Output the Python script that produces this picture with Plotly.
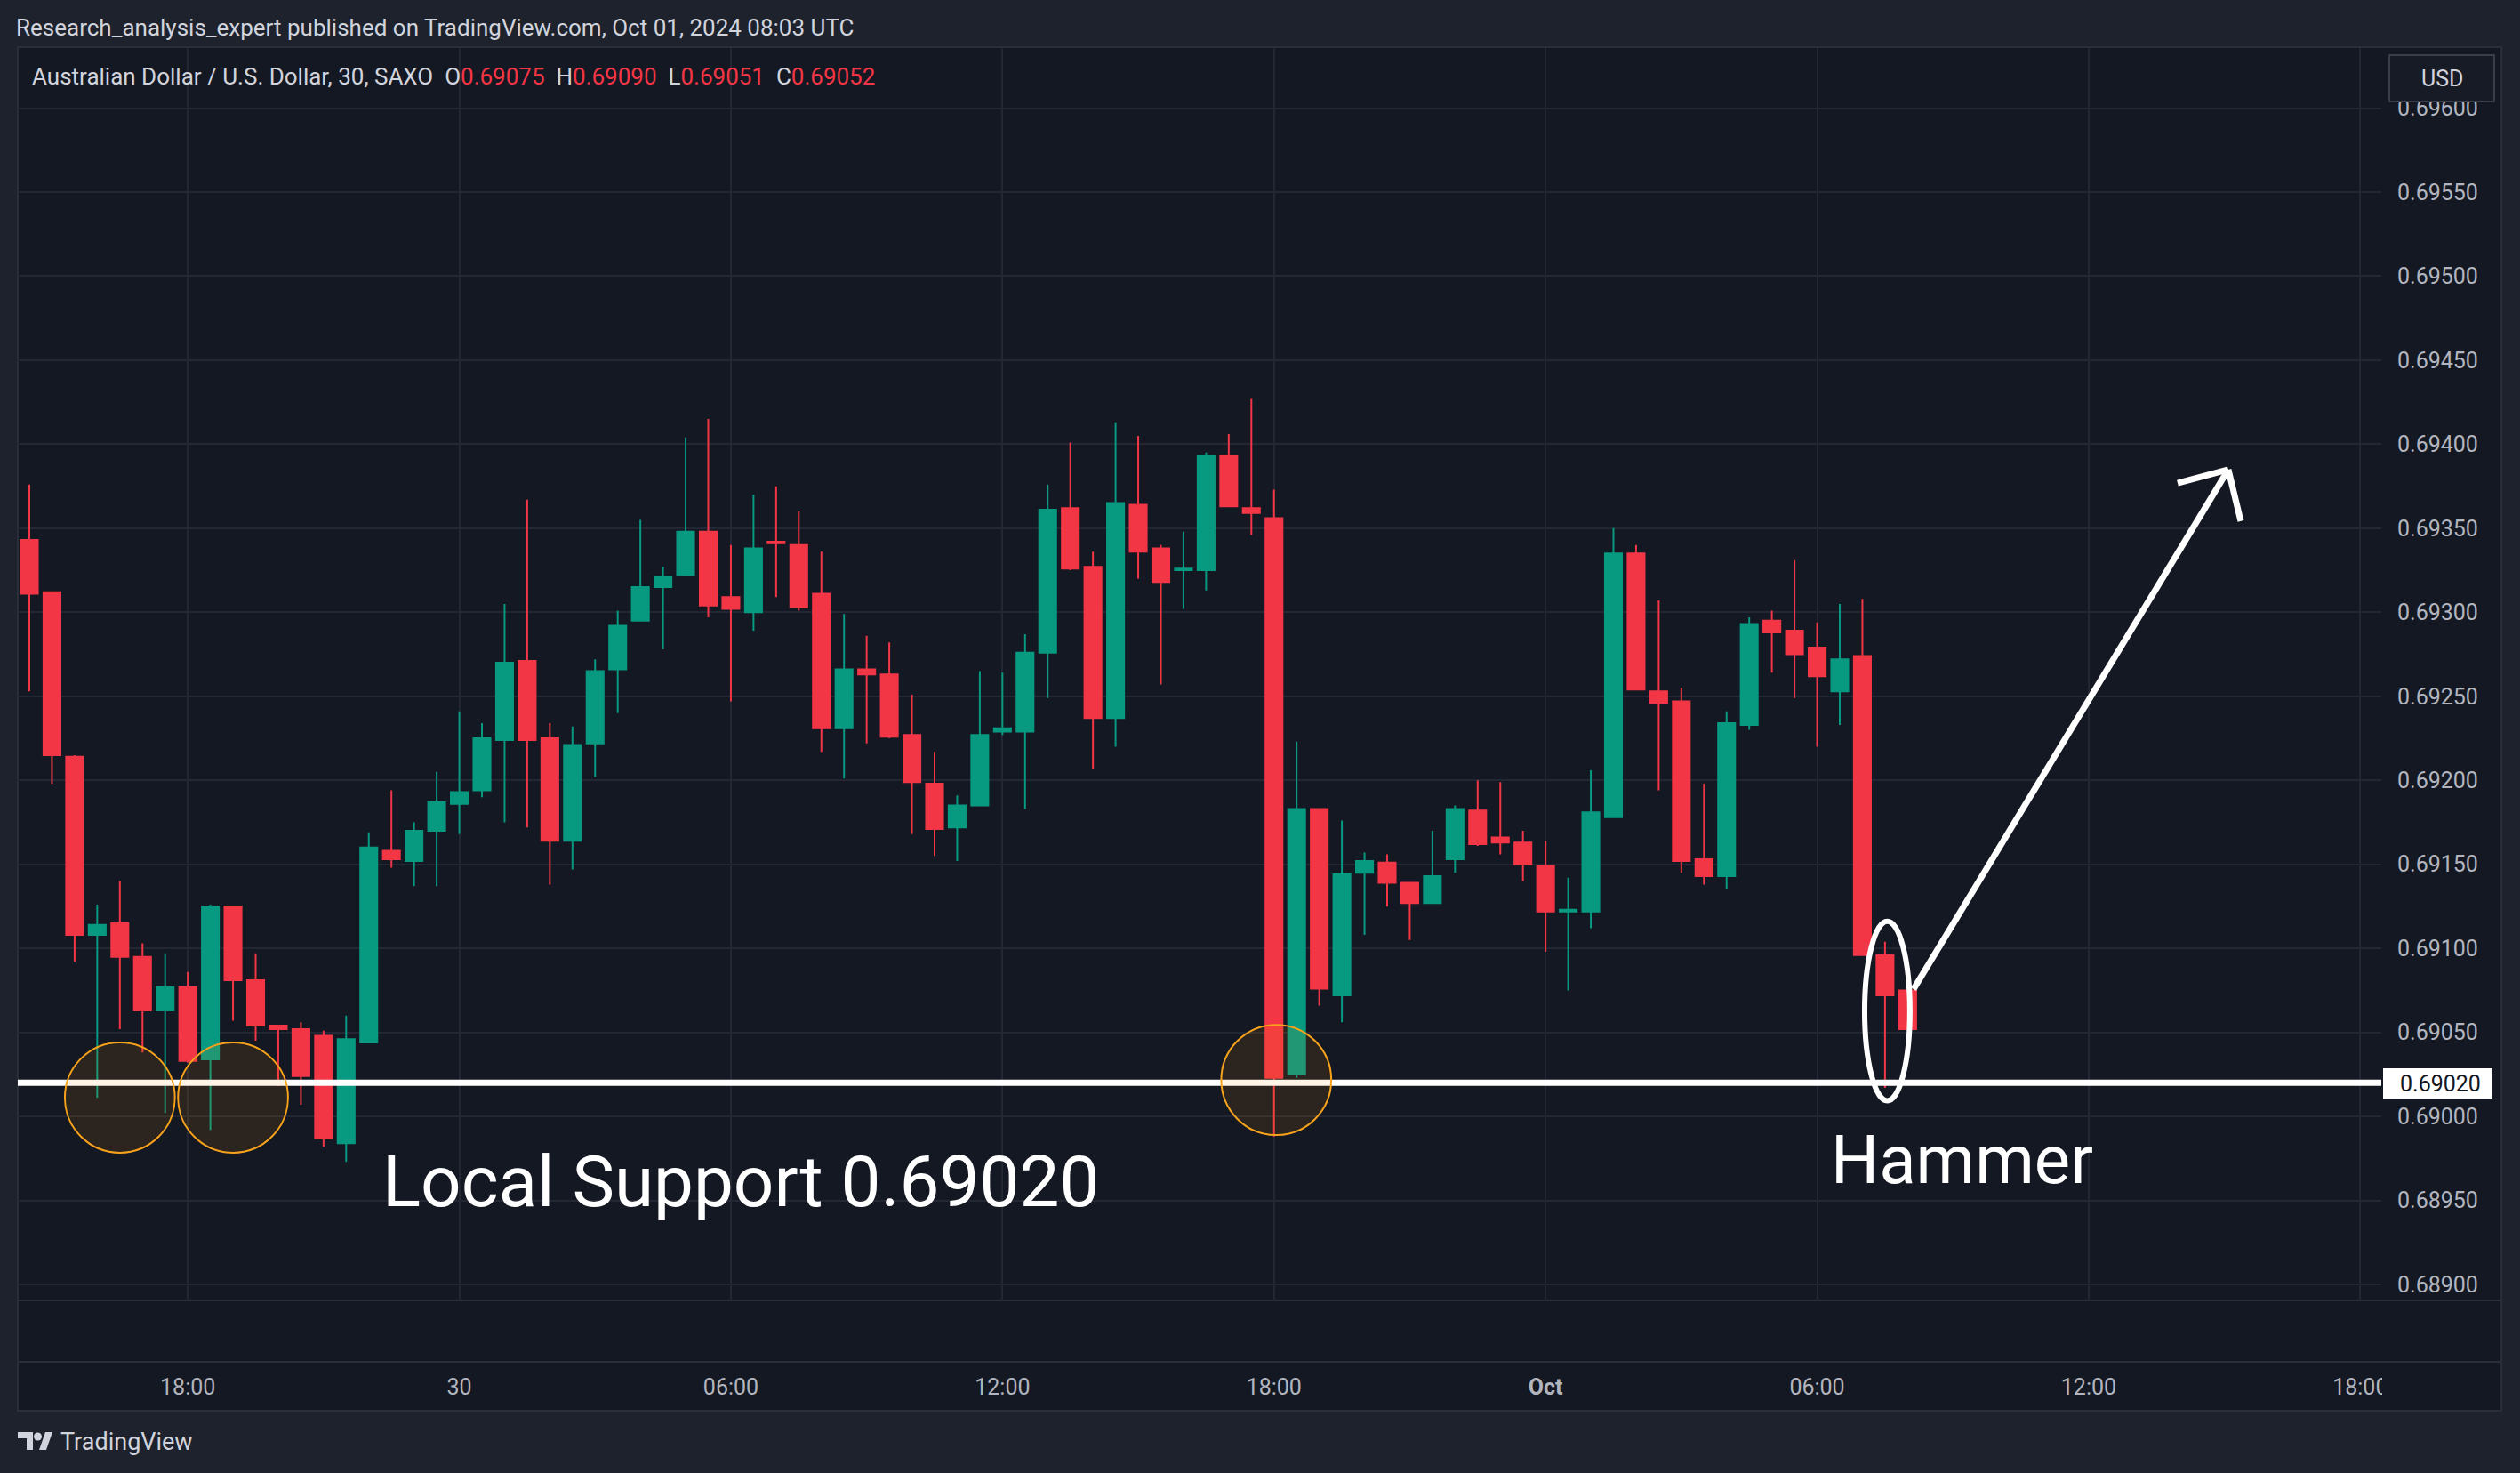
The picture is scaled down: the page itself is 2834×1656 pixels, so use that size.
import plotly.graph_objects as go
import pandas as pd

# ---------------- data ----------------
start_time = "2024-09-29 14:30"   # first 30-minute candle
opens = [0.69343, 0.69312, 0.69214, 0.69108, 0.69115, 0.69095, 0.69063, 0.69077, 0.69034, 0.69125,
         0.69081, 0.69054, 0.69052, 0.69048, 0.68984, 0.69044, 0.69158, 0.69152, 0.69170, 0.69186,
         0.69194, 0.69224, 0.69271, 0.69225, 0.69164, 0.69222, 0.69266, 0.69295, 0.69315, 0.69322,
         0.69348, 0.69309, 0.69300, 0.69342, 0.69340, 0.69311, 0.69231, 0.69266, 0.69263, 0.69227,
         0.69198, 0.69172, 0.69185, 0.69229, 0.69229, 0.69276, 0.69362, 0.69327, 0.69237, 0.69364,
         0.69338, 0.69325, 0.69325, 0.69393, 0.69362, 0.69356, 0.69025, 0.69183, 0.69072, 0.69145,
         0.69151, 0.69139, 0.69127, 0.69153, 0.69182, 0.69166, 0.69163, 0.69149, 0.69122, 0.69122,
         0.69178, 0.69335, 0.69253, 0.69247, 0.69153, 0.69143, 0.69233, 0.69295, 0.69289, 0.69279,
         0.69253, 0.69274, 0.69096, 0.69075]
highs = [0.69376, 0.69312, 0.69215, 0.69126, 0.69140, 0.69103, 0.69097, 0.69086, 0.69126, 0.69125,
         0.69097, 0.69054, 0.69056, 0.69051, 0.69060, 0.69169, 0.69194, 0.69175, 0.69205, 0.69241,
         0.69234, 0.69305, 0.69367, 0.69234, 0.69232, 0.69272, 0.69301, 0.69355, 0.69327, 0.69404,
         0.69415, 0.69340, 0.69370, 0.69375, 0.69360, 0.69336, 0.69299, 0.69286, 0.69282, 0.69251,
         0.69217, 0.69191, 0.69265, 0.69264, 0.69287, 0.69376, 0.69401, 0.69336, 0.69413, 0.69405,
         0.69340, 0.69348, 0.69395, 0.69406, 0.69427, 0.69373, 0.69223, 0.69183, 0.69176, 0.69157,
         0.69156, 0.69139, 0.69170, 0.69185, 0.69200, 0.69199, 0.69170, 0.69164, 0.69142, 0.69206,
         0.69350, 0.69340, 0.69307, 0.69255, 0.69198, 0.69241, 0.69297, 0.69301, 0.69331, 0.69294,
         0.69305, 0.69308, 0.69104, 0.69090]
lows = [0.69253, 0.69198, 0.69092, 0.69011, 0.69052, 0.69038, 0.69002, 0.69032, 0.68992, 0.69057,
        0.69045, 0.69018, 0.69007, 0.68982, 0.68973, 0.69044, 0.69148, 0.69137, 0.69137, 0.69168,
        0.69190, 0.69175, 0.69172, 0.69138, 0.69147, 0.69202, 0.69240, 0.69295, 0.69278, 0.69322,
        0.69297, 0.69247, 0.69289, 0.69309, 0.69301, 0.69217, 0.69201, 0.69222, 0.69225, 0.69168,
        0.69155, 0.69152, 0.69185, 0.69227, 0.69183, 0.69249, 0.69325, 0.69207, 0.69220, 0.69320,
        0.69257, 0.69302, 0.69313, 0.69363, 0.69346, 0.68988, 0.69023, 0.69066, 0.69056, 0.69108,
        0.69125, 0.69105, 0.69127, 0.69145, 0.69161, 0.69156, 0.69140, 0.69098, 0.69075, 0.69112,
        0.69178, 0.69254, 0.69194, 0.69145, 0.69138, 0.69135, 0.69230, 0.69264, 0.69249, 0.69220,
        0.69233, 0.69096, 0.69017, 0.69051]
closes = [0.69311, 0.69215, 0.69108, 0.69114, 0.69095, 0.69063, 0.69077, 0.69033, 0.69125, 0.69081,
          0.69054, 0.69052, 0.69024, 0.68987, 0.69046, 0.69160, 0.69153, 0.69170, 0.69187, 0.69193,
          0.69225, 0.69270, 0.69224, 0.69164, 0.69221, 0.69265, 0.69292, 0.69315, 0.69321, 0.69348,
          0.69304, 0.69302, 0.69338, 0.69341, 0.69303, 0.69231, 0.69266, 0.69263, 0.69226, 0.69199,
          0.69171, 0.69185, 0.69227, 0.69231, 0.69276, 0.69361, 0.69326, 0.69237, 0.69365, 0.69336,
          0.69318, 0.69326, 0.69393, 0.69363, 0.69359, 0.69023, 0.69183, 0.69076, 0.69144, 0.69152,
          0.69139, 0.69127, 0.69143, 0.69183, 0.69162, 0.69163, 0.69150, 0.69122, 0.69123, 0.69181,
          0.69335, 0.69254, 0.69246, 0.69152, 0.69143, 0.69234, 0.69293, 0.69288, 0.69275, 0.69262,
          0.69272, 0.69096, 0.69072, 0.69052]

tick_times = ["2024-09-29 18:00", "2024-09-30 00:00", "2024-09-30 06:00", "2024-09-30 12:00",
              "2024-09-30 18:00", "2024-10-01 00:00", "2024-10-01 06:00", "2024-10-01 12:00",
              "2024-10-01 18:00"]
tick_labels = ["18:00", "30", "06:00", "12:00", "18:00", "<b>Oct</b>", "06:00", "12:00", "18:00"]
support_level = 0.69020
last_ohlc = {"O": "0.69075", "H": "0.69090", "L": "0.69051", "C": "0.69052"}

# ---------------- helpers ----------------
W, H = 2834, 1656
PL, PR, PT, PB = 20, 2678, 54, 1462          # plot area in pixels
t0 = pd.Timestamp(start_time)


def T(i):
    """time at (fractional) candle index i"""
    return (t0 + pd.Timedelta(minutes=30 * i)).strftime("%Y-%m-%d %H:%M:%S.%f")


def px(x):
    return (x - PL) / (PR - PL)


def py(y):
    return (PB - y) / (PB - PT)


times = pd.date_range(start_time, periods=len(opens), freq="30min")

BG = "#141823"
OUTER = "#1e222d"
BORDER = "#2a2e39"
GRID = "#232733"
RED = "#f23645"
GREEN = "#089981"
TXT = "#d1d4dc"
AXT = "#b2b5be"
FONT = "Roboto, sans-serif"

fig = go.Figure()
fig.add_trace(go.Candlestick(
    x=times, open=opens, high=highs, low=lows, close=closes,
    increasing=dict(line=dict(color=GREEN, width=2), fillcolor=GREEN),
    decreasing=dict(line=dict(color=RED, width=2), fillcolor=RED),
    whiskerwidth=0, hoverinfo="skip", showlegend=False,
))

shapes = []
# chart panel background + separators
shapes.append(dict(type="rect", xref="paper", yref="paper", layer="below",
                   x0=px(20), x1=px(2813), y0=py(1586), y1=py(53),
                   fillcolor=BG, line=dict(color=BORDER, width=2)))
for yy in (1462, 1531):
    shapes.append(dict(type="line", xref="paper", yref="paper", layer="below",
                       x0=px(20), x1=px(2813), y0=py(yy), y1=py(yy),
                       line=dict(color=BORDER, width=2)))

# support line
shapes.append(dict(type="line", xref="paper", yref="y", layer="above",
                   x0=0, x1=1, y0=support_level, y1=support_level,
                   line=dict(color="#ffffff", width=7)))

# orange circles (index centre, price centre)
for ci, cp in [(4.0, 0.690112), (9.0, 0.690112), (55.1, 0.690217)]:
    shapes.append(dict(type="circle", xref="x", yref="y", layer="above",
                       x0=T(ci - 2.43), x1=T(ci + 2.43), y0=cp - 0.000328, y1=cp + 0.000328,
                       fillcolor="rgba(255,152,0,0.10)", line=dict(color="#f7a21b", width=2)))

# hammer ellipse
shapes.append(dict(type="circle", xref="x", yref="y", layer="above",
                   x0=T(82.1 - 1.0), x1=T(82.1 + 1.0), y0=0.690627 - 0.000534, y1=0.690627 + 0.000534,
                   line=dict(color="#ffffff", width=6)))

# arrow
arrow_tip = (97.17, 0.693849)
for (ax, ay) in [(83.26, 0.690757), (94.93, 0.693769), (97.72, 0.693542)]:
    shapes.append(dict(type="line", xref="x", yref="y", layer="above",
                       x0=T(ax), y0=ay, x1=T(arrow_tip[0]), y1=arrow_tip[1],
                       line=dict(color="#ffffff", width=7)))

# clip of the time-scale row under the price scale
shapes.append(dict(type="rect", xref="paper", yref="paper", layer="above",
                   x0=px(2679), x1=px(2812), y0=py(1584), y1=py(1533),
                   fillcolor=BG, line=dict(width=0)))

# USD button
shapes.append(dict(type="rect", xref="paper", yref="paper", layer="above",
                   x0=px(2687), x1=px(2805), y0=py(114), y1=py(62),
                   fillcolor="#171b26", line=dict(color="#3a3e4a", width=2)))

# price label box for support level
shapes.append(dict(type="rect", xref="paper", yref="paper", layer="above",
                   x0=px(2680), x1=px(2803), y0=py(1235), y1=py(1201),
                   fillcolor="#ffffff", line=dict(width=0)))

# TradingView logo
logo_paths = [
    "M {a} {b} L {c} {b} L {c} {d} L {e} {d} L {e} {f} L {a} {f} Z".format(
        a=px(20), b=py(1610), c=px(37), d=py(1630), e=px(30), f=py(1617)),
    "M {a} {b} L {c} {b} L {d} {e} L {f} {e} Z".format(
        a=px(51), b=py(1610), c=px(59), d=px(52), e=py(1630), f=px(44)),
]
for p in logo_paths:
    shapes.append(dict(type="path", xref="paper", yref="paper", layer="above",
                       path=p, fillcolor=TXT, line=dict(width=0)))
shapes.append(dict(type="circle", xref="paper", yref="paper", layer="above",
                   x0=px(38), x1=px(47), y0=py(1619.5), y1=py(1610.5),
                   fillcolor=TXT, line=dict(width=0)))

annotations = []


def note(text, x, y, size, color, xanchor="left", family=FONT):
    annotations.append(dict(text=text, xref="paper", yref="paper", x=px(x), y=py(y),
                            xanchor=xanchor, yanchor="middle", showarrow=False,
                            font=dict(family=family, size=size, color=color)))


note("Research_analysis_expert published on TradingView.com, Oct 01, 2024 08:03 UTC", 16, 31, 26, TXT)
legend = ("Australian Dollar / U.S. Dollar, 30, SAXO  "
          + "  ".join(f"{k}<span style='color:{RED}'>{v}</span>" for k, v in last_ohlc.items()))
note(legend, 34, 86, 26, TXT)
note("USD", 2746, 88, 25, TXT, xanchor="center")
note(f"{support_level:.5f}", 2697, 1218, 25, "#131722")
note("Local Support 0.69020", 428, 1329, 80, "#ffffff")
note("Hammer", 2206, 1304, 76, "#ffffff", xanchor="center")
note("TradingView", 66, 1621, 27, TXT)

fig.update_layout(
    width=W, height=H,
    margin=dict(l=PL, r=W - PR, t=PT, b=H - PB, pad=0),
    paper_bgcolor=OUTER, plot_bgcolor=BG,
    font=dict(family=FONT, color=AXT),
    boxgap=0.25, boxgroupgap=0,
    shapes=shapes, annotations=annotations,
    showlegend=False, hovermode=False,
)
fig.update_xaxes(
    type="date", range=[T(-0.511), T(103.93)],
    tickvals=tick_times, ticktext=tick_labels,
    tickfont=dict(size=25, color=AXT, family=FONT),
    showgrid=True, gridcolor=GRID, gridwidth=1.5,
    zeroline=False, showline=False, ticks="", ticklabelstandoff=80,
    rangeslider=dict(visible=False), fixedrange=True,
)
fig.update_yaxes(
    range=[0.688905, 0.6963575], side="right",
    tick0=0.689, dtick=0.0005, tickformat=".5f",
    tickfont=dict(size=25, color=AXT, family=FONT),
    showgrid=True, gridcolor=GRID, gridwidth=1.5,
    zeroline=False, showline=False, ticks="", ticklabelstandoff=17,
    fixedrange=True,
)

fig.write_html("out.html", config={"displayModeBar": False},
               post_script="document.body.style.margin='0';document.body.style.overflow='hidden';")
